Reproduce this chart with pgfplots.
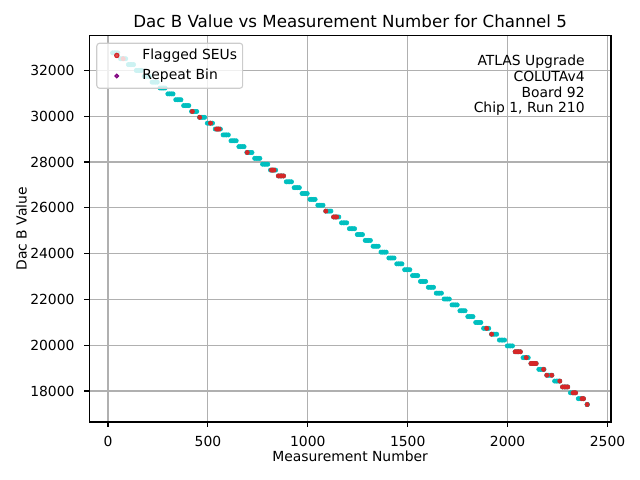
\documentclass[border=0pt]{standalone}
\usepackage{fontspec}
\setmainfont{DejaVu Sans}
\usepackage{pgfplots}
\pgfplotsset{compat=1.18}
\usepackage{pgfplotstable}
\definecolor{mplc}{HTML}{00BFBF}
\definecolor{mplred}{HTML}{D62728}
\definecolor{mplpurple}{HTML}{800080}
\definecolor{gridgray}{HTML}{B0B0B0}
\definecolor{legedge}{HTML}{CCCCCC}

\pgfplotstableread{
a b c d y
23 32 40 49 32768
62.5 71.5 79.5 88.5 32512
102 111 119 128 32256
141.5 150.5 158.5 167.5 32000
181 190 198 207 31744
220.5 229.5 237.5 246.5 31488
260 269 277 286 31232
299.5 308.5 316.5 325.5 30976
339 348 356 365 30720
378.5 387.5 395.5 404.5 30464
418 427 435 444 30208
457.5 466.5 474.5 483.5 29952
497 506 514 523 29696
536.5 545.5 553.5 562.5 29440
576 585 593 602 29184
615.5 624.5 632.5 641.5 28928
655 664 672 681 28672
694.5 703.5 711.5 720.5 28416
734 743 751 760 28160
773.5 782.5 790.5 799.5 27904
813 822 830 839 27648
852.5 861.5 869.5 878.5 27392
892 901 909 918 27136
931.5 940.5 948.5 957.5 26880
971 980 988 997 26624
1010.5 1019.5 1027.5 1036.5 26368
1050 1059 1067 1076 26112
1089.5 1098.5 1106.5 1115.5 25856
1129 1138 1146 1155 25600
1168.5 1177.5 1185.5 1194.5 25344
1208 1217 1225 1234 25088
1247.5 1256.5 1264.5 1273.5 24832
1287 1296 1304 1313 24576
1326.5 1335.5 1343.5 1352.5 24320
1366 1375 1383 1392 24064
1405.5 1414.5 1422.5 1431.5 23808
1445 1454 1462 1471 23552
1484.5 1493.5 1501.5 1510.5 23296
1524 1533 1541 1550 23040
1563.5 1572.5 1580.5 1589.5 22784
1603 1612 1620 1629 22528
1642.5 1651.5 1659.5 1668.5 22272
1682 1691 1699 1708 22016
1721.5 1730.5 1738.5 1747.5 21760
1761 1770 1778 1787 21504
1800.5 1809.5 1817.5 1826.5 21248
1840 1849 1857 1866 20992
1879.5 1888.5 1896.5 1905.5 20736
1919 1928 1936 1945 20480
1958.5 1967.5 1975.5 1984.5 20224
1998 2007 2015 2024 19968
2037.5 2046.5 2054.5 2063.5 19712
2077 2086 2094 2103 19456
2116.5 2125.5 2133.5 2142.5 19200
2156 2165 2173 2182 18944
2195.5 2204.5 2212.5 2221.5 18688
2235 2244 2252 2261 18432
2274.5 2283.5 2291.5 2300.5 18176
2314 2323 2331 2340 17920
2353.5 2362.5 2370.5 2379.5 17664
2398 2398 2398 2398 17408
}\steps

\pgfplotstableread{
x y
76 32512
422 30208
459 29952
513 29696
543 29440
549.5 29440
556 29440
697 28416
818 27648
824.5 27648
831 27648
852.5 27392
861.5 27392
869.5 27392
878.5 27392
1090 25856
1129 25600
1137 25600
1144 25600
1895 20736
1920 20480
2037.5 19712
2046.5 19712
2054.5 19712
2063.5 19712
2093 19456
2116.5 19200
2125.5 19200
2133.5 19200
2142.5 19200
2180 18944
2196 18688
2221 18688
2261 18432
2274.5 18176
2283.5 18176
2291.5 18176
2300.5 18176
2327 17920
2334 17920
2340 17920
2372 17664
2379.5 17664
2398 17408
}\flagged

\begin{document}
\begin{tikzpicture}
\begin{axis}[
  scale only axis, width=375.6pt, height=278.1pt,
  xmin=-93.6, xmax=2517, ymin=16645, ymax=33515,
  xtick={0,500,1000,1500,2000,2500},
  ytick={18000,20000,22000,24000,26000,28000,30000,32000},
  scaled ticks=false,
  /pgf/number format/assume math mode=true,
  /pgf/number format/1000 sep={},
  grid=major, major grid style={gridgray, line width=0.8pt},
  axis line style={black, line width=0.8pt},
  tick align=outside, tick pos=left, major tick length=3.5pt,
  every tick/.style={black, line width=0.8pt},
  tick label style={font=\fontsize{10}{12}\selectfont, inner sep=0pt},
  xticklabel style={anchor=base, yshift=-14.3pt},
  yticklabel style={anchor=east, xshift=-7pt},
  label style={font=\fontsize{10}{12}\selectfont, inner sep=0pt},
  xlabel={Measurement Number}, ylabel={Dac B Value},
  xlabel style={at={(axis description cs:0.5,-0.10284)}, anchor=base},
  ylabel style={at={(axis description cs:-0.1203,0.5)}, anchor=base, rotate=0},
  title={Dac B Value vs Measurement Number for Channel 5},
  title style={at={(axis description cs:0.5,1)}, anchor=base, yshift=0pt, inner sep=0pt, font=\fontsize{12}{14}\selectfont},
  legend cell align=left,
  legend image code/.code={\draw[#1] plot coordinates {(0pt,0pt)}; \path (-10pt,0pt) (10pt,0pt);},
  legend style={at={(axis description cs:0,1)}, anchor=north west, xshift=5pt, yshift=-5pt,
    draw=legedge, line width=0.8pt, fill=white, fill opacity=0.8, text opacity=1,
    rounded corners=2pt, font=\fontsize{10}{12}\selectfont,
    inner xsep=4pt, inner ysep=3.8pt, row sep=4.8pt, column sep=8pt,
    nodes={inner sep=0pt, text height=7.6pt, text depth=2.4pt}},
]
\addplot[only marks, mark=*, mark size=1.55pt, color=mplc, forget plot] table[x=a, y=y] {\steps};
\addplot[only marks, mark=*, mark size=1.55pt, color=mplc, forget plot] table[x=b, y=y] {\steps};
\addplot[only marks, mark=*, mark size=1.55pt, color=mplc, forget plot] table[x=c, y=y] {\steps};
\addplot[only marks, mark=*, mark size=1.55pt, color=mplc, forget plot] table[x=d, y=y] {\steps};
\addplot[only marks, mark=*, mark size=1.55pt, color=mplred] table[x=x, y=y] {\flagged};
\addlegendentry{Flagged SEUs}
\addlegendimage{only marks, mark=*, mark size=1.35pt, color=mplpurple}
\addlegendentry{Repeat Bin}
\node[anchor=north east, align=right, inner sep=0pt, font=\fontsize{10}{11.3}\selectfont]
  at (rel axis cs:0.95,0.95) {ATLAS Upgrade\\COLUTAv4\\Board 92\\Chip 1, Run 210};
\end{axis}
\pgfresetboundingbox
\path[use as bounding box] (-64.3pt,-41.76pt) rectangle (396.5pt,303.84pt);
\end{tikzpicture}
\end{document}
